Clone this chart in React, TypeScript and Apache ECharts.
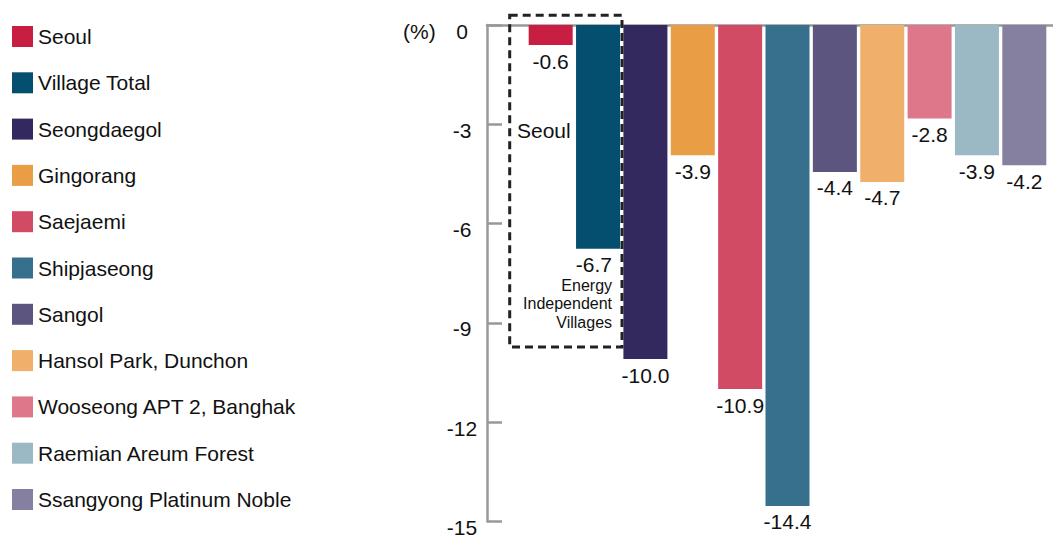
import React, { useEffect, useRef } from 'react';
import * as echarts from 'echarts';

const categories = [
  'Seoul',
  'Village Total',
  'Seongdaegol',
  'Gingorang',
  'Saejaemi',
  'Shipjaseong',
  'Sangol',
  'Hansol Park, Dunchon',
  'Wooseong APT 2, Banghak',
  'Raemian Areum Forest',
  'Ssangyong Platinum Noble',
];
const values = [-0.6, -6.7, -10.0, -3.9, -10.9, -14.4, -4.4, -4.7, -2.8, -3.9, -4.2];
const colors = [
  '#C81E41',
  '#044E6F',
  '#33295E',
  '#E99D45',
  '#D14B64',
  '#36708C',
  '#5C557F',
  '#F0B06C',
  '#DD788B',
  '#9BB8C5',
  '#85809F',
];
const yMin = -15;
const yMax = 0;
const yInterval = 3;
const unitLabel = '(%)';
const groupLabel = 'Seoul';
const villageNote = ['Energy', 'Independent', 'Villages'];

const FONT = '"Liberation Sans", Arial, Helvetica, sans-serif';
const AXIS = '#999999';
const TEXT = '#111111';

export default function App() {
  const ref = useRef<HTMLDivElement>(null);

  useEffect(() => {
    document.body.style.margin = '0';
    if (!ref.current) return;
    const chart = echarts.init(ref.current, undefined, { renderer: 'svg' });

    const series = categories.map((name, i) => {
      const base: any = {
        name,
        type: 'bar',
        xAxisIndex: 1,
        yAxisIndex: 1,
        stack: 'all',
        barWidth: 44,
        data: values.map((v, j) => (j === i ? v : '-')),
        itemStyle: { color: colors[i] },
        label: {
          show: true,
          position: 'bottom',
          distance: 5,
          fontSize: 21,
          lineHeight: 22,
          color: TEXT,
          fontFamily: FONT,
          formatter: (p: any) => Number(p.value).toFixed(1),
        },
      };
      if (i === 1) {
        base.label = {
          show: true,
          position: 'bottom',
          distance: 5,
          align: 'right',
          offset: [14, 0],
          color: TEXT,
          fontFamily: FONT,
          formatter: (p: any) =>
            `{v|${Number(p.value).toFixed(1)}}\n` + villageNote.map((t) => `{s|${t}}`).join('\n'),
          rich: {
            v: { fontSize: 21, lineHeight: 22, color: TEXT, fontFamily: FONT, align: 'right' },
            s: { fontSize: 16, lineHeight: 18.5, color: TEXT, fontFamily: FONT, align: 'right' },
          },
        };
      }
      return base;
    });

    const option: any = {
      animation: false,
      textStyle: { fontFamily: FONT },
      legend: {
        orient: 'vertical',
        left: 7,
        top: 21,
        icon: 'rect',
        itemWidth: 21,
        itemHeight: 21,
        itemGap: 25.3,
        selectedMode: false,
        data: categories,
        textStyle: { fontSize: 21, lineHeight: 21, color: TEXT, fontFamily: FONT },
      },
      grid: [
        { left: 487, right: 0, top: 25, bottom: 12 },
        { left: 527, right: 5, top: 25, bottom: 12 },
      ],
      xAxis: [
        {
          gridIndex: 0,
          type: 'value',
          min: 0,
          max: 1,
          axisLine: { show: true, lineStyle: { color: AXIS, width: 2.5 } },
          axisTick: { show: false },
          axisLabel: { show: false },
          splitLine: { show: false },
        },
        { gridIndex: 1, type: 'category', data: categories, show: false },
      ],
      yAxis: [
        {
          gridIndex: 0,
          type: 'value',
          min: yMin,
          max: yMax,
          interval: yInterval,
          axisLine: { show: true, lineStyle: { color: AXIS, width: 2.5 } },
          axisTick: { show: true, inside: true, length: 15, lineStyle: { color: AXIS, width: 2.5 } },
          axisLabel: {
            fontSize: 21,
            color: TEXT,
            margin: 25,
            align: 'center',
            verticalAlign: 'top',
            lineHeight: 12,
            fontFamily: FONT,
          },
          splitLine: { show: false },
        },
        { gridIndex: 1, type: 'value', min: yMin, max: yMax, show: false },
      ],
      graphic: [
        {
          type: 'rect',
          z: 100,
          shape: { x: 509.7, y: 15.3, width: 112.3, height: 331.7 },
          style: { fill: 'none', stroke: '#222222', lineWidth: 3, lineDash: [8, 5] },
        },
        {
          type: 'text',
          z: 100,
          x: 517,
          y: 130,
          style: {
            text: groupLabel,
            fontSize: 21,
            fontFamily: FONT,
            fill: TEXT,
            verticalAlign: 'middle',
            align: 'left',
          },
        },
        {
          type: 'text',
          z: 100,
          x: 403,
          y: 31,
          style: {
            text: unitLabel,
            fontSize: 21,
            fontFamily: FONT,
            fill: TEXT,
            verticalAlign: 'middle',
            align: 'left',
          },
        },
      ],
      series,
    };

    chart.setOption(option);
    return () => chart.dispose();
  }, []);

  return <div ref={ref} style={{ width: 1053, height: 538 }} />;
}
